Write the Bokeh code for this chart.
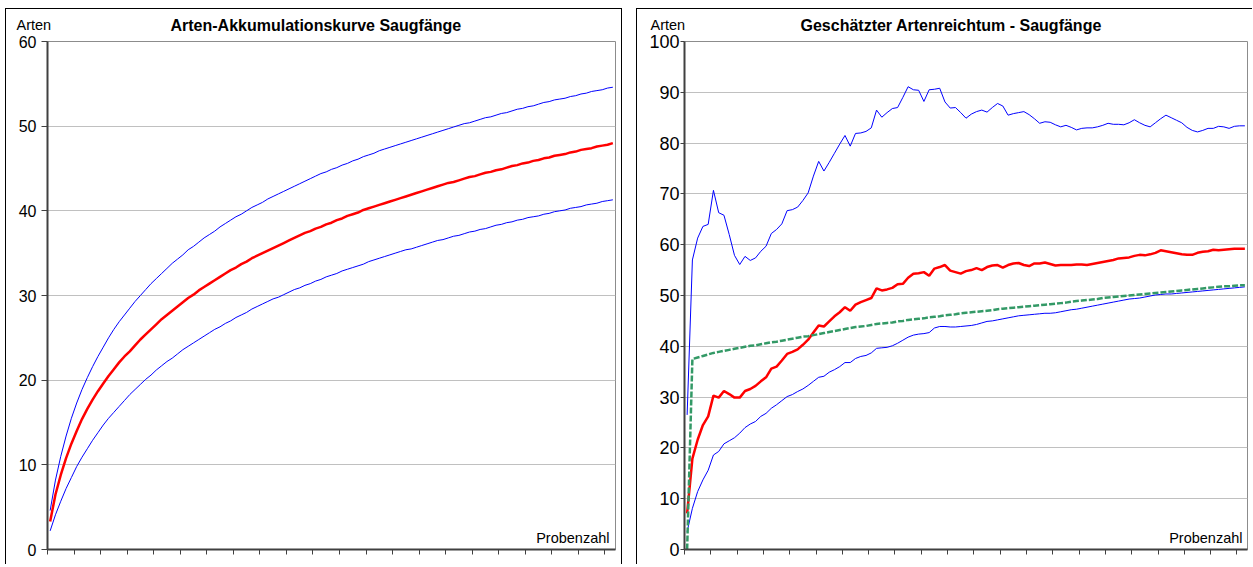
from bokeh.plotting import figure
from bokeh.models import Range1d, FixedTicker, Label, Title
from bokeh.layouts import row
from bokeh.embed import file_html
from bokeh.resources import INLINE

# ---------------- data ----------------
samples = list(range(1, 108))
x_ticks = [0.5, 5.5, 10.5, 15.5, 20.5, 25.5, 30.5, 35.5, 40.5, 45.5, 50.5,
           55.5, 60.5, 65.5, 70.5, 75.5, 80.5, 85.5, 90.5, 95.5, 100.5, 105.5]
y_ticks_left = [0, 10, 20, 30, 40, 50, 60]
y_ticks_right = [0, 10, 20, 30, 40, 50, 60, 70, 80, 90, 100]

# left chart: species accumulation (mean and confidence bounds)
acc_mean = [3.3, 6.5, 8.8, 10.8, 12.5, 14.0, 15.4, 16.6, 17.7, 18.7,
            19.6, 20.5, 21.3, 22.1, 22.8, 23.4, 24.1, 24.8, 25.4, 26.0,
            26.6, 27.2, 27.7, 28.2, 28.7, 29.2, 29.7, 30.1, 30.6, 31.0,
            31.4, 31.8, 32.2, 32.6, 33.0, 33.3, 33.7, 34.0, 34.4, 34.7,
            35.0, 35.3, 35.6, 35.9, 36.2, 36.5, 36.8, 37.1, 37.4, 37.6,
            37.9, 38.1, 38.4, 38.6, 38.9, 39.1, 39.4, 39.6, 39.8, 40.1,
            40.3, 40.5, 40.7, 40.9, 41.1, 41.3, 41.5, 41.7, 41.9, 42.1,
            42.3, 42.5, 42.7, 42.9, 43.1, 43.3, 43.4, 43.6, 43.8, 44.0,
            44.1, 44.3, 44.5, 44.6, 44.8, 44.9, 45.1, 45.3, 45.4, 45.6,
            45.7, 45.9, 46.0, 46.2, 46.3, 46.5, 46.6, 46.7, 46.9, 47.0,
            47.2, 47.3, 47.4, 47.6, 47.7, 47.8, 48.0]
acc_upper = [4.6, 8.2, 11.0, 13.4, 15.5, 17.3, 18.9, 20.3, 21.6, 22.8,
             23.9, 25.0, 26.0, 26.9, 27.7, 28.5, 29.3, 30.0, 30.7, 31.4,
             32.0, 32.6, 33.2, 33.8, 34.3, 34.8, 35.4, 35.8, 36.3, 36.8,
             37.2, 37.6, 38.1, 38.5, 38.9, 39.3, 39.6, 40.0, 40.4, 40.7,
             41.0, 41.4, 41.7, 42.0, 42.3, 42.6, 42.9, 43.2, 43.5, 43.8,
             44.1, 44.4, 44.6, 44.9, 45.1, 45.4, 45.6, 45.9, 46.1, 46.4,
             46.6, 46.8, 47.1, 47.3, 47.5, 47.7, 47.9, 48.1, 48.3, 48.5,
             48.7, 48.9, 49.1, 49.3, 49.5, 49.7, 49.9, 50.1, 50.3, 50.4,
             50.6, 50.8, 51.0, 51.1, 51.3, 51.5, 51.6, 51.8, 52.0, 52.1,
             52.3, 52.4, 52.6, 52.8, 52.9, 53.1, 53.2, 53.3, 53.5, 53.6,
             53.8, 53.9, 54.1, 54.2, 54.3, 54.5, 54.6]
acc_lower = [2.2, 4.1, 5.7, 7.2, 8.5, 9.8, 10.9, 11.9, 12.9, 13.8,
             14.7, 15.5, 16.2, 16.9, 17.6, 18.3, 18.9, 19.5, 20.1, 20.6,
             21.2, 21.7, 22.2, 22.6, 23.1, 23.6, 24.0, 24.4, 24.8, 25.2,
             25.6, 26.0, 26.3, 26.7, 27.0, 27.4, 27.7, 28.0, 28.4, 28.7,
             29.0, 29.3, 29.6, 29.8, 30.1, 30.4, 30.7, 30.9, 31.2, 31.4,
             31.7, 31.9, 32.2, 32.4, 32.6, 32.9, 33.1, 33.3, 33.5, 33.7,
             34.0, 34.2, 34.4, 34.6, 34.8, 35.0, 35.2, 35.4, 35.5, 35.7,
             35.9, 36.1, 36.3, 36.5, 36.6, 36.8, 37.0, 37.1, 37.3, 37.5,
             37.6, 37.8, 37.9, 38.1, 38.3, 38.4, 38.6, 38.7, 38.9, 39.0,
             39.2, 39.3, 39.4, 39.6, 39.7, 39.9, 40.0, 40.1, 40.3, 40.4,
             40.5, 40.7, 40.8, 40.9, 41.1, 41.2, 41.3]

# right chart: estimated species richness
est_upper = [26.5, 57.0, 61.3, 63.6, 64.0, 70.7, 66.3, 65.8, 62.0, 57.9,
             56.1, 57.7, 56.9, 57.4, 58.7, 59.7, 62.2, 63.0, 64.1, 66.7,
             66.9, 67.4, 68.7, 70.2, 73.5, 76.4, 74.5, 76.2, 78.0, 79.8,
             81.5, 79.4, 81.9, 82.0, 82.3, 83.0, 86.5, 85.1, 86.0, 86.8,
             87.0, 89.0, 91.1, 90.5, 90.4, 88.2, 90.5, 90.6, 90.8, 88.1,
             86.9, 87.0, 86.0, 84.9, 85.7, 86.2, 86.5, 86.1, 87.0, 87.8,
             87.3, 85.5, 85.8, 86.0, 86.2, 85.6, 84.8, 83.9, 84.2, 84.1,
             83.6, 83.2, 83.5, 83.1, 82.6, 82.9, 83.0, 83.0, 83.2, 83.5,
             83.9, 83.7, 83.7, 83.6, 84.0, 84.6, 84.0, 83.5, 83.2, 84.0,
             84.8, 85.5, 85.0, 84.5, 84.0, 83.1, 82.5, 82.2, 82.5, 82.9,
             82.9, 83.3, 83.2, 82.9, 83.3, 83.4, 83.4]
est_mean = [7.1, 17.9, 21.6, 24.5, 26.2, 30.3, 29.9, 31.2, 30.6, 29.9,
            29.9, 31.2, 31.6, 32.2, 33.1, 33.9, 35.6, 36.0, 37.2, 38.5,
            38.9, 39.4, 40.3, 41.3, 42.7, 44.1, 43.9, 44.9, 45.9, 46.7,
            47.7, 47.0, 48.2, 48.7, 49.1, 49.5, 51.4, 51.0, 51.2, 51.5,
            52.2, 52.3, 53.5, 54.3, 54.4, 54.6, 53.9, 55.3, 55.6, 56.0,
            54.9, 54.6, 54.3, 54.8, 55.0, 55.4, 55.0, 55.6, 55.9, 56.0,
            55.5, 56.0, 56.3, 56.4, 56.0, 55.8, 56.3, 56.3, 56.5, 56.2,
            55.9, 56.0, 56.0, 56.0, 56.1, 56.1, 56.0, 56.2, 56.4, 56.6,
            56.8, 57.0, 57.3, 57.4, 57.5, 57.8, 58.0, 57.9, 58.1, 58.4,
            58.9, 58.7, 58.5, 58.3, 58.1, 58.0, 58.0, 58.4, 58.6, 58.7,
            59.0, 58.9, 59.0, 59.1, 59.2, 59.2, 59.2]
est_lower = [3.5, 8.1, 11.4, 13.7, 15.6, 18.6, 19.3, 20.8, 21.4, 22.0,
             22.9, 24.0, 24.7, 25.2, 26.2, 26.8, 27.8, 28.5, 29.3, 30.1,
             30.5, 31.1, 31.6, 32.3, 33.1, 33.9, 34.1, 34.9, 35.4, 36.0,
             36.8, 36.8, 37.6, 38.0, 38.2, 38.7, 39.6, 39.7, 39.8, 40.1,
             40.6, 41.2, 41.8, 42.2, 42.4, 42.5, 42.7, 43.6, 43.9, 43.9,
             43.8, 43.8, 43.9, 44.0, 44.1, 44.3, 44.6, 44.9, 45.0, 45.2,
             45.4, 45.6, 45.8, 46.0, 46.1, 46.2, 46.3, 46.4, 46.5, 46.5,
             46.6, 46.8, 47.0, 47.2, 47.3, 47.5, 47.7, 47.9, 48.1, 48.3,
             48.5, 48.7, 48.9, 49.1, 49.3, 49.4, 49.5, 49.7, 49.9, 50.1,
             50.2, 50.3, 50.3, 50.4, 50.5, 50.6, 50.7, 50.8, 50.9, 51.0,
             51.1, 51.2, 51.3, 51.4, 51.5, 51.6, 51.7]
est_other = [0.0, 37.5, 37.8, 38.1, 38.4, 38.7, 38.9, 39.1, 39.3, 39.5,
             39.7, 39.9, 40.1, 40.2, 40.4, 40.6, 40.8, 40.9, 41.1, 41.3,
             41.5, 41.7, 41.9, 42.0, 42.2, 42.4, 42.6, 42.8, 43.0, 43.2,
             43.4, 43.6, 43.8, 43.9, 44.0, 44.2, 44.4, 44.5, 44.6, 44.7,
             44.9, 45.0, 45.2, 45.3, 45.4, 45.5, 45.7, 45.8, 45.9, 46.1,
             46.2, 46.3, 46.5, 46.6, 46.7, 46.8, 46.9, 47.0, 47.1, 47.3,
             47.4, 47.5, 47.6, 47.7, 47.8, 47.9, 48.0, 48.1, 48.2, 48.3,
             48.4, 48.5, 48.6, 48.8, 48.9, 49.0, 49.1, 49.2, 49.3, 49.5,
             49.6, 49.7, 49.8, 49.9, 50.0, 50.1, 50.2, 50.3, 50.4, 50.5,
             50.6, 50.7, 50.8, 50.9, 51.0, 51.1, 51.2, 51.3, 51.4, 51.5,
             51.6, 51.7, 51.8, 51.8, 51.9, 52.0, 52.0]

FONT = "Liberation Sans"


def make_panel(ymax, yticks, min_left, frame_w, min_right, tick_font,
               tick_out, standoff, title, title_dx, arten_dx,
               styles, margin):
    p = figure(frame_width=frame_w, frame_height=507,
               x_range=Range1d(0.5, 107.5), y_range=Range1d(0, ymax),
               output_backend="svg", toolbar_location=None,
               min_border_left=min_left, min_border_right=min_right,
               min_border_top=32, min_border_bottom=16,
               background_fill_color="white", border_fill_color="white",
               margin=margin)
    p.styles = styles
    p.outline_line_color = "#8c8c8c"
    p.outline_line_width = 1
    p.xgrid.visible = False
    p.ygrid.grid_line_color = "#c0c0c0"
    p.ygrid.grid_line_width = 1

    p.yaxis.ticker = FixedTicker(ticks=yticks)
    p.yaxis.minor_tick_line_color = None
    p.yaxis.major_tick_out = tick_out
    p.yaxis.major_tick_in = 0
    p.yaxis.major_label_standoff = standoff
    p.yaxis.major_label_text_font = FONT
    p.yaxis.major_label_text_font_size = tick_font
    p.yaxis.major_label_text_color = "black"
    p.yaxis.axis_line_color = "#404040"
    p.yaxis.axis_line_width = 2
    p.yaxis.major_tick_line_color = "#404040"

    p.xaxis.ticker = FixedTicker(ticks=x_ticks)
    p.xaxis.minor_tick_line_color = None
    p.xaxis.major_tick_out = 5
    p.xaxis.major_tick_in = 0
    p.xaxis.major_label_overrides = {t: "" for t in x_ticks}
    p.xaxis.major_label_standoff = 0
    p.xaxis.axis_line_color = "#404040"
    p.xaxis.axis_line_width = 2
    p.xaxis.major_tick_line_color = "#404040"

    # y-axis caption above the axis (in the top panel so that it is not
    # clipped to the plotting frame); added first -> innermost item
    p.add_layout(Label(x=0.5, y=ymax, x_offset=arten_dx, y_offset=17,
                       text="Arten", text_align="left",
                       text_baseline="alphabetic", text_font=FONT,
                       text_font_size="14.5px", text_color="black"),
                 "above")

    # chart title, stacked outside the caption and pulled down beside it
    t = Title(text=title, align="left", offset=title_dx,
              vertical_align="bottom",
              text_font=FONT, text_font_style="bold",
              text_font_size="16px", text_color="black", standoff=-17)
    p.add_layout(t, "above")

    p.add_layout(Label(x=frame_w - 4, y=12, x_units="screen",
                       y_units="screen", level="overlay",
                       text="Probenzahl", text_align="right",
                       text_baseline="alphabetic", text_font=FONT,
                       text_font_size="14.5px", text_color="black"))
    return p


p1 = make_panel(60, y_ticks_left, 41, 566, 8, "16px", 6, 5,
                "Arten-Akkumulationskurve Saugfänge", 123, -31,
                {"border-top": "1px solid black",
                 "border-left": "1px solid black",
                 "border-right": "1px solid black"},
                (8, 0, 0, 5))
p1.line(samples, acc_upper, line_color="#0000ff", line_width=1)
p1.line(samples, acc_lower, line_color="#0000ff", line_width=1)
p1.line(samples, acc_mean, line_color="#ff0000", line_width=2.5)

p2 = make_panel(100, y_ticks_right, 47, 562, 6, "18px", 4, 1,
                "Geschätzter Artenreichtum - Saugfänge", 116, -34,
                {"border-top": "1px solid black",
                 "border-left": "1px solid black"},
                (8, 0, 0, 0))
p2.line(samples, est_upper, line_color="#0000ff", line_width=1)
p2.line(samples, est_lower, line_color="#0000ff", line_width=1)
p2.line(samples, est_mean, line_color="#ff0000", line_width=2.5)
p2.line(samples, est_other, line_color="#339966", line_width=2.5,
        line_dash="6 2")

layout = row(p1, p2, spacing=14)
open("out.html", "w").write(file_html(layout, INLINE))
